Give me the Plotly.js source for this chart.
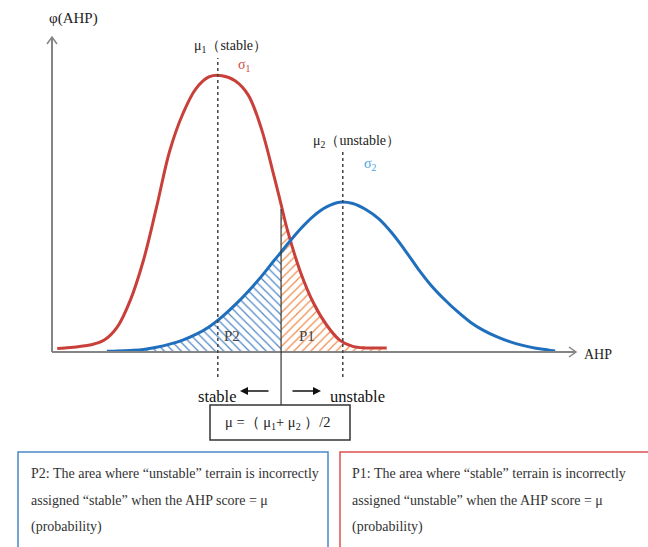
<!DOCTYPE html>
<html>
<head>
<meta charset="utf-8">
<script src="https://cdn.plot.ly/plotly-3.0.1.min.js"></script>
<style>
  body { margin: 0; background: #fff; }
  #plot { width: 648px; height: 547px; }
</style>
</head>
<body>
<div id="plot"></div>
<script>
// AHP score positions (0-100) and density values
let muStable = 31.7;
let muUnstable = 55.6;
let muMid = 43.8;

let redX = [1, 2.5, 5, 7.5, 10, 12.5, 15, 17.5, 20, 22.5, 25, 27.5, 30, 32.5, 35, 37.5, 40, 42.5, 43.8, 45, 47.5, 50, 52.5, 55, 57.5, 60, 62.5, 64];
let redY = [1.1, 1.3, 1.7, 2.3, 3.8, 8.0, 16.6, 29.3, 46.2, 64.0, 75.8, 83.8, 87.6, 88.0, 86.4, 81.9, 71.3, 55.7, 47.0, 38.9, 25.5, 15.6, 8.6, 3.8, 1.8, 1.3, 1.3, 1.3];

let blueX = [10.5, 12.5, 15, 17.5, 20, 22.5, 25, 27.5, 30, 32.5, 35, 37.5, 40, 42.5, 43.8, 45, 47.5, 50, 52.5, 55, 57.5, 60, 62.5, 65, 67.5, 70, 72.5, 75, 77.5, 80, 82.5, 85, 87.5, 90, 92.5, 95, 96.2];
let blueY = [0.2, 0.3, 0.5, 0.8, 1.5, 2.5, 3.8, 5.6, 8.0, 11.2, 15.0, 19.3, 24.0, 29.2, 31.8, 34.3, 39.2, 43.3, 46.2, 47.7, 47.3, 45.4, 42.4, 37.9, 32.4, 26.5, 21.2, 16.8, 12.9, 9.5, 6.9, 4.9, 3.3, 2.1, 1.2, 0.6, 0.3];

// pixel helpers for the decorations (the plot area fills the whole page)
let W = 648, H = 547;
let px = x => x / W;
let py = y => 1 - y / H;
let dx = x => (x - 52) / 5.23;
let dy = y => (352 - y) / 3.14;

let serif = 'Liberation Serif, Times New Roman, serif';

// areas P2 (under blue, left of mu) and P1 (under red, right of mu)
let p2X = [], p2Y = [];
blueX.forEach((x, i) => { if (x <= muMid) { p2X.push(x); p2Y.push(blueY[i]); } });
let p1X = [], p1Y = [];
redX.forEach((x, i) => { if (x >= muMid) { p1X.push(x); p1Y.push(redY[i]); } });

let data = [
  {
    x: p2X, y: p2Y, mode: 'lines', line: {width: 0, shape: 'spline'},
    fill: 'tozeroy', fillcolor: 'rgba(0,0,0,0)',
    fillpattern: {shape: '\\', fgcolor: '#4f86c6', bgcolor: 'rgba(0,0,0,0)', size: 6, solidity: 0.2},
    hoverinfo: 'skip'
  },
  {
    x: p1X, y: p1Y, mode: 'lines', line: {width: 0, shape: 'spline'},
    fill: 'tozeroy', fillcolor: 'rgba(0,0,0,0)',
    fillpattern: {shape: '/', fgcolor: '#f08a4b', bgcolor: 'rgba(0,0,0,0)', size: 6, solidity: 0.2},
    hoverinfo: 'skip'
  },
  {
    x: redX, y: redY, mode: 'lines', name: 'stable',
    line: {color: '#c9403a', width: 3, shape: 'spline', smoothing: 1}
  },
  {
    x: blueX, y: blueY, mode: 'lines', name: 'unstable',
    line: {color: '#1f6fbd', width: 3, shape: 'spline', smoothing: 1}
  }
];

function txt(text, x, y, size, color, anchor) {
  return {
    text: text, xref: 'paper', yref: 'paper', x: px(x), y: py(y),
    xanchor: anchor || 'center', yanchor: 'middle', showarrow: false,
    font: {family: serif, size: size, color: color || '#222'}
  };
}

let boxLines2 = ['P2: The area where “unstable” terrain is incorrectly',
                 'assigned “stable” when the AHP score = μ',
                 '(probability)'];
let boxLines1 = ['P1: The area where “stable” terrain is incorrectly',
                 'assigned “unstable” when the AHP score = μ',
                 '(probability)'];

let annotations = [
  txt('φ(AHP)', 47, 18, 15, '#222', 'left'),
  txt('AHP', 582, 354, 14, '#222', 'left'),
  txt('μ<sub>1</sub>（stable）', 231, 47, 14),
  txt('σ<sub>1</sub>', 244, 66, 14, '#d04a44'),
  txt('μ<sub>2</sub>（unstable）', 356, 142, 14),
  txt('σ<sub>2</sub>', 370, 165, 14, '#45a3dc'),
  txt('P2', 232, 336, 15, '#444'),
  txt('P1', 307, 336, 15, '#444'),
  txt('stable', 239, 396, 16.5, '#111', 'right'),
  txt('unstable', 328, 396, 16.5, '#111', 'left'),
  txt('μ =（ μ<sub>1</sub>+ μ<sub>2</sub> ）/2', 278, 423, 14.5, '#222'),
  {x: px(240), y: py(391), xref: 'paper', yref: 'paper', ax: 30, ay: 0, text: '',
   showarrow: true, arrowhead: 2, arrowsize: 1, arrowwidth: 1.6, arrowcolor: '#111'},
  {x: px(321), y: py(391), xref: 'paper', yref: 'paper', ax: -30, ay: 0, text: '',
   showarrow: true, arrowhead: 2, arrowsize: 1, arrowwidth: 1.6, arrowcolor: '#111'}
];
boxLines2.forEach((t, i) => annotations.push(txt(t, 29, 473 + i * 27, 14, '#333', 'left')));
boxLines1.forEach((t, i) => annotations.push(txt(t, 350, 473 + i * 27, 14, '#333', 'left')));

let axisGrey = '#858585';
let shapes = [
  // axes with open arrow heads
  {type: 'line', xref: 'paper', yref: 'paper', x0: px(52), y0: py(352), x1: px(52), y1: py(37), line: {color: axisGrey, width: 2}},
  {type: 'path', xref: 'paper', yref: 'paper',
   path: `M ${px(47)} ${py(44)} L ${px(52)} ${py(37)} L ${px(57)} ${py(44)}`, line: {color: axisGrey, width: 1.5}},
  {type: 'line', xref: 'paper', yref: 'paper', x0: px(52), y0: py(352), x1: px(576), y1: py(352), line: {color: axisGrey, width: 2}},
  {type: 'path', xref: 'paper', yref: 'paper',
   path: `M ${px(569)} ${py(347)} L ${px(576)} ${py(352)} L ${px(569)} ${py(357)}`, line: {color: axisGrey, width: 1.5}},
  // mean lines
  {type: 'line', xref: 'x', yref: 'y', x0: muStable, x1: muStable, y0: dy(377), y1: dy(58), line: {color: '#444', width: 1.5, dash: 'dot'}},
  {type: 'line', xref: 'x', yref: 'y', x0: muUnstable, x1: muUnstable, y0: dy(377), y1: dy(152), line: {color: '#444', width: 1.5, dash: 'dot'}},
  {type: 'line', xref: 'x', yref: 'y', x0: muMid, x1: muMid, y0: dy(405), y1: dy(209), line: {color: '#333', width: 1.2}},
  // text boxes
  {type: 'rect', xref: 'paper', yref: 'paper', x0: px(210), x1: px(350), y0: py(405), y1: py(440), line: {color: '#333', width: 1.5}},
  {type: 'rect', xref: 'paper', yref: 'paper', x0: px(18), x1: px(328), y0: py(452), y1: py(560), line: {color: '#4a86c8', width: 1.5}},
  {type: 'rect', xref: 'paper', yref: 'paper', x0: px(340), x1: px(660), y0: py(452), y1: py(560), line: {color: '#e05050', width: 1.5}}
];

let layout = {
  width: W, height: H,
  margin: {l: 0, r: 0, t: 0, b: 0, pad: 0},
  paper_bgcolor: '#fff', plot_bgcolor: '#fff',
  showlegend: false,
  xaxis: {range: [dx(0), dx(W)], visible: false, fixedrange: true},
  yaxis: {range: [dy(H), dy(0)], visible: false, fixedrange: true},
  annotations: annotations,
  shapes: shapes
};

Plotly.newPlot('plot', data, layout, {staticPlot: true});
</script>
</body>
</html>
